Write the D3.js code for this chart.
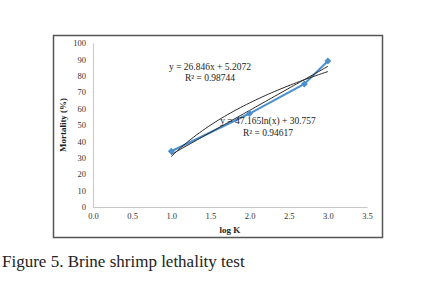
<!DOCTYPE html>
<html>
<head>
<meta charset="utf-8">
<script src="https://cdn.jsdelivr.net/npm/d3@7"></script>
<style>
  body { margin: 0; background: #fff; }
  svg { display: block; }
</style>
</head>
<body>
<svg width="440" height="284"></svg>
<script>
// data
const logK = [1.0, 2.0, 2.7, 3.0];
const mortality = [34, 57, 75, 89];
const xTicks = [0, 0.5, 1, 1.5, 2, 2.5, 3, 3.5];
const yTicks = [0, 10, 20, 30, 40, 50, 60, 70, 80, 90, 100];
// trendline coefficients as printed on the chart
const linCoef = [26.846, 5.2072];
const logCoef = [47.165, 30.757];
const eqLabels = ["y = 26.846x + 5.2072", "R² = 0.98744", "y = 47.165ln(x) + 30.757", "R² = 0.94617"];

const svg = d3.select("svg");
const font = "'Liberation Serif', 'DejaVu Serif', serif";

var x = d3.scaleLinear().domain([0, 3.5]).range([93, 367]);
var y = d3.scaleLinear().domain([0, 100]).range([207, 43]);

// chart frame
svg.append("rect")
    .attr("x", 53.5).attr("y", 35.5)
    .attr("width", 329).attr("height", 202)
    .attr("fill", "#fff")
    .attr("stroke", "#555")
    .attr("stroke-width", 1.5);

var xAxis = d3.axisBottom(x).tickValues(xTicks).tickSize(0).tickPadding(6)
    .tickFormat(d3.format(".1f"));
var yAxis = d3.axisLeft(y).tickValues(yTicks).tickSize(0).tickPadding(7);

var gx = svg.append("g").attr("transform", "translate(0," + y(0) + ")").call(xAxis);
var gy = svg.append("g").attr("transform", "translate(" + x(0) + ",0)").call(yAxis);
[gx, gy].forEach(function (g) {
    g.select(".domain").attr("stroke", "#c8c8c8");
    g.selectAll("text").attr("font-family", font).attr("font-size", 8.5).attr("fill", "#333");
});

// axis titles
svg.append("text")
    .attr("x", x(1.75)).attr("y", 233)
    .attr("text-anchor", "middle")
    .attr("font-family", font).attr("font-size", 9).attr("font-weight", "bold")
    .attr("fill", "#222")
    .text("log K");
svg.append("text")
    .attr("transform", "translate(66," + y(50) + ") rotate(-90)")
    .attr("text-anchor", "middle")
    .attr("font-family", font).attr("font-size", 9).attr("font-weight", "bold")
    .attr("fill", "#222")
    .text("Mortality (%)");

// data line
var pts = logK.map(function (d, i) { return [d, mortality[i]]; });
svg.append("path")
    .datum(pts)
    .attr("fill", "none")
    .attr("stroke", "#4a8fcf")
    .attr("stroke-width", 2)
    .attr("d", d3.line().x(function (d) { return x(d[0]); }).y(function (d) { return y(d[1]); }));

// trendlines
var xs = d3.range(0, 51).map(function (i) { return logK[0] + i * (logK[logK.length - 1] - logK[0]) / 50; });
svg.append("path")
    .datum(xs)
    .attr("fill", "none").attr("stroke", "#2a2a2a").attr("stroke-width", 1)
    .attr("d", d3.line().x(function (d) { return x(d); }).y(function (d) { return y(linCoef[0] * d + linCoef[1]); }));
svg.append("path")
    .datum(xs)
    .attr("fill", "none").attr("stroke", "#2a2a2a").attr("stroke-width", 1)
    .attr("d", d3.line().x(function (d) { return x(d); }).y(function (d) { return y(logCoef[0] * Math.log(d) + logCoef[1]); }));

// markers
svg.selectAll(".pt")
    .data(pts)
    .enter()
    .append("path")
    .attr("transform", function (d) { return "translate(" + x(d[0]) + "," + y(d[1]) + ")"; })
    .attr("d", d3.symbol(d3.symbolDiamond2, 30))
    .attr("fill", "#4a8fcf");

// equation labels
var labelPos = [[210, 70], [210, 81], [268, 124], [268, 136]];
eqLabels.forEach(function (t, i) {
    svg.append("text")
        .attr("x", labelPos[i][0]).attr("y", labelPos[i][1])
        .attr("text-anchor", "middle")
        .attr("font-family", font).attr("font-size", 9.5)
        .attr("fill", "#222")
        .text(t);
});

// caption
svg.append("text")
    .attr("x", 2).attr("y", 267)
    .attr("font-family", font).attr("font-size", 17)
    .attr("fill", "#222")
    .text("Figure 5. Brine shrimp lethality test");
</script>
</body>
</html>
